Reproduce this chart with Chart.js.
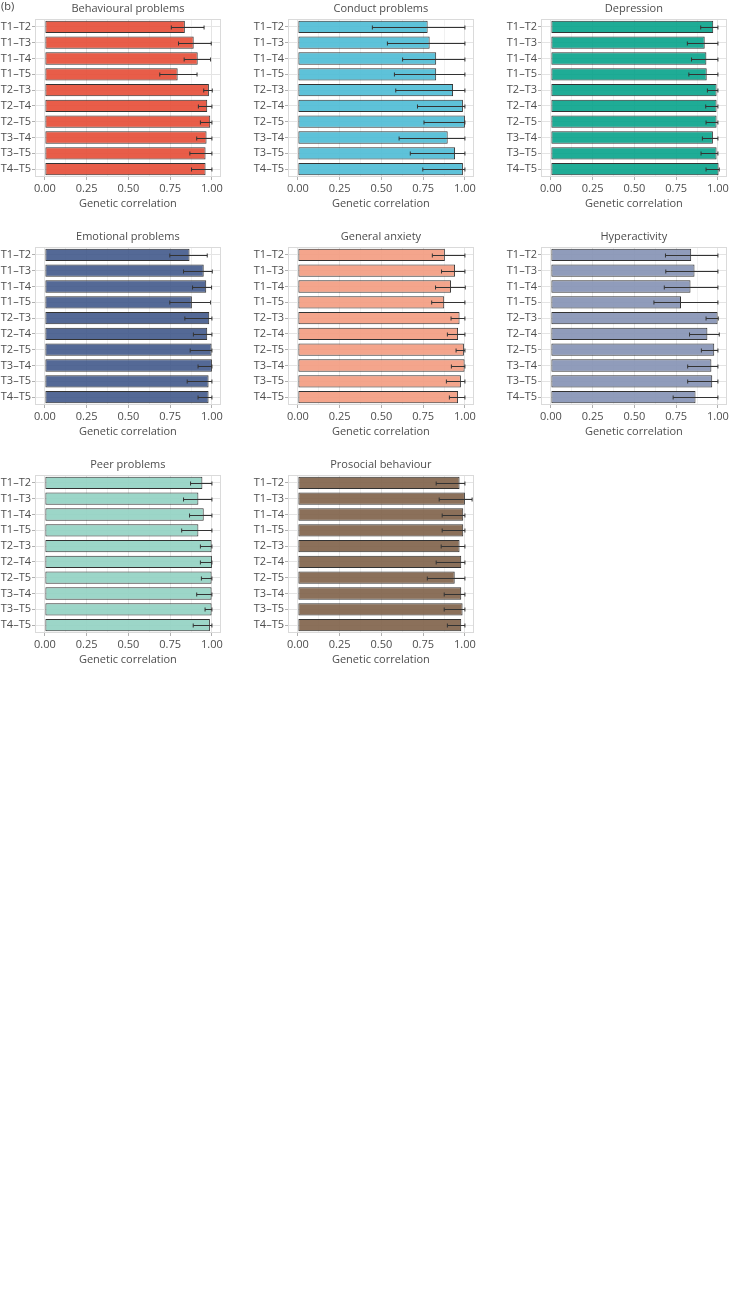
<!DOCTYPE html>
<html lang="en">
<head>
<meta charset="UTF-8">
<title>Genetic correlations between time points</title>
<script src="https://cdn.jsdelivr.net/npm/chart.js"></script>
<style>
  body { margin: 0; background: #fff; font-family: "Open Sans", sans-serif; }
  #page { position: relative; width: 730px; height: 1305px; overflow: hidden; }
  .panel { position: absolute; }
  #tag { position: absolute; left: 1px; top: -2px; font-size: 11px; color: #444; z-index: 2; }
</style>
</head>
<body>
<div id="page">
  <div id="tag">(b)</div>
</div>
<script>
// time-point pairs (y categories) and x tick labels
const pairs = ['T1–T2', 'T1–T3', 'T1–T4', 'T1–T5', 'T2–T3', 'T2–T4', 'T2–T5', 'T3–T4', 'T3–T5', 'T4–T5'];
const xTickValues = [0, 0.25, 0.5, 0.75, 1];

// genetic correlation estimates with lower / upper bounds
const behaviouralR  = [0.838, 0.891, 0.915, 0.795, 0.982, 0.972, 0.990, 0.968, 0.962, 0.962];
const behaviouralLo = [0.757, 0.800, 0.834, 0.688, 0.951, 0.919, 0.931, 0.909, 0.868, 0.878];
const behaviouralHi = [0.953, 0.996, 0.992, 0.911, 1.002, 1.000, 1.000, 1.000, 1.000, 1.000];

const conductR  = [0.777, 0.789, 0.828, 0.828, 0.929, 0.988, 1.000, 0.897, 0.941, 0.988];
const conductLo = [0.446, 0.536, 0.627, 0.578, 0.586, 0.716, 0.755, 0.606, 0.673, 0.748];
const conductHi = [1.000, 1.000, 1.000, 1.000, 1.000, 1.000, 1.000, 1.000, 1.000, 1.000];

const depressionR  = [0.972, 0.921, 0.931, 0.933, 0.992, 0.992, 0.992, 0.970, 0.992, 1.004];
const depressionLo = [0.897, 0.817, 0.842, 0.826, 0.937, 0.927, 0.929, 0.907, 0.899, 0.929];
const depressionHi = [1.000, 1.000, 1.000, 1.000, 1.000, 1.000, 1.000, 1.000, 1.000, 1.008];

const emotionalR  = [0.866, 0.951, 0.966, 0.880, 0.984, 0.972, 0.998, 1.000, 0.980, 0.980];
const emotionalLo = [0.748, 0.830, 0.884, 0.748, 0.838, 0.889, 0.870, 0.917, 0.852, 0.917];
const emotionalHi = [0.972, 1.002, 0.998, 0.992, 1.000, 1.000, 1.000, 1.000, 1.000, 1.000];

const anxietyR  = [0.880, 0.941, 0.917, 0.876, 0.968, 0.959, 0.994, 0.998, 0.976, 0.959];
const anxietyLo = [0.805, 0.860, 0.824, 0.801, 0.917, 0.895, 0.947, 0.919, 0.889, 0.907];
const anxietyHi = [1.000, 1.000, 1.002, 1.000, 1.000, 1.000, 1.000, 1.000, 1.000, 1.000];

const hyperR  = [0.840, 0.860, 0.836, 0.779, 0.998, 0.937, 0.978, 0.961, 0.966, 0.866];
const hyperLo = [0.686, 0.688, 0.679, 0.617, 0.929, 0.830, 0.901, 0.819, 0.819, 0.732];
const hyperHi = [1.000, 1.000, 1.000, 1.000, 1.002, 1.008, 1.000, 1.000, 1.000, 1.000];

const peerR  = [0.943, 0.919, 0.951, 0.919, 0.998, 1.000, 0.998, 0.998, 0.998, 0.988];
const peerLo = [0.872, 0.830, 0.866, 0.819, 0.931, 0.931, 0.937, 0.909, 0.959, 0.888];
const peerHi = [1.000, 1.000, 1.000, 1.000, 1.000, 1.000, 1.000, 1.000, 1.000, 1.000];

const prosocialR  = [0.968, 1.000, 0.990, 0.990, 0.968, 0.978, 0.939, 0.978, 0.986, 0.978];
const prosocialLo = [0.828, 0.846, 0.864, 0.864, 0.858, 0.828, 0.775, 0.876, 0.876, 0.895];
const prosocialHi = [1.000, 1.043, 1.000, 1.000, 1.000, 1.000, 1.000, 1.000, 1.000, 1.000];

const panels = [
  { title: 'Behavioural problems', r: behaviouralR, lo: behaviouralLo, hi: behaviouralHi, color: 'rgba(230,75,53,0.9)' },
  { title: 'Conduct problems', r: conductR, lo: conductLo, hi: conductHi, color: 'rgba(77,187,213,0.9)' },
  { title: 'Depression', r: depressionR, lo: depressionLo, hi: depressionHi, color: 'rgba(0,160,135,0.88)' },
  { title: 'Emotional problems', r: emotionalR, lo: emotionalLo, hi: emotionalHi, color: 'rgba(60,84,136,0.88)' },
  { title: 'General anxiety', r: anxietyR, lo: anxietyLo, hi: anxietyHi, color: 'rgba(243,155,127,0.9)' },
  { title: 'Hyperactivity', r: hyperR, lo: hyperLo, hi: hyperHi, color: 'rgba(132,145,180,0.9)' },
  { title: 'Peer problems', r: peerR, lo: peerLo, hi: peerHi, color: 'rgba(145,209,194,0.9)' },
  { title: 'Prosocial behaviour', r: prosocialR, lo: prosocialLo, hi: prosocialHi, color: 'rgba(126,97,72,0.9)' }
];

const FONT = { family: '"Open Sans", sans-serif', size: 11, weight: 'normal' };
const TEXT = '#4d4d4d';

// whiskers drawn through the chart's own scales
const errorBars = {
  id: 'errorBars',
  afterDatasetsDraw(chart, args, opts) {
    const { ctx, scales: { x, y } } = chart;
    ctx.save();
    ctx.strokeStyle = '#333';
    ctx.lineWidth = 1;
    opts.lo.forEach((lo, i) => {
      const yy = Math.round(y.getPixelForValue(i)) + 0.5;
      const x1 = x.getPixelForValue(lo);
      const x2 = x.getPixelForValue(opts.hi[i]);
      ctx.beginPath();
      ctx.moveTo(x1, yy); ctx.lineTo(x2, yy);
      ctx.moveTo(x1, yy - 2); ctx.lineTo(x1, yy + 2);
      ctx.moveTo(x2, yy - 2); ctx.lineTo(x2, yy + 2);
      ctx.stroke();
    });
    ctx.restore();
  }
};

// light frame round the panel
const frame = {
  id: 'frame',
  afterDraw(chart) {
    const { ctx, chartArea: a } = chart;
    ctx.save();
    ctx.strokeStyle = '#dadada';
    ctx.lineWidth = 1;
    ctx.strokeRect(Math.round(a.left) + 0.5, Math.round(a.top) + 0.5,
      Math.round(a.right - a.left) - 1, Math.round(a.bottom - a.top) - 1);
    ctx.restore();
  }
};

const xTicksAll = [];
xTickValues.forEach((v, i) => {
  xTicksAll.push(v);
  if (i < xTickValues.length - 1) xTicksAll.push((v + xTickValues[i + 1]) / 2);
});
const isMajor = v => xTickValues.some(t => Math.abs(t - v) < 1e-9);

const page = document.getElementById('page');
const colLeft = [0, 253, 506];
const rowTop = [0, 228, 456];

panels.forEach((p, k) => {
  const canvas = document.createElement('canvas');
  canvas.className = 'panel';
  canvas.width = 225;
  canvas.height = 215;
  canvas.style.left = colLeft[k % 3] + 'px';
  canvas.style.top = rowTop[Math.floor(k / 3)] + 'px';
  canvas.style.width = '225px';
  canvas.style.height = '215px';
  page.appendChild(canvas);

  new Chart(canvas, {
    type: 'bar',
    data: {
      labels: pairs,
      datasets: [{
        data: p.r,
        backgroundColor: p.color,
        borderColor: '#333',
        borderWidth: 1,
        borderSkipped: false,
        barPercentage: 0.78,
        categoryPercentage: 1
      }]
    },
    plugins: [errorBars, frame],
    options: {
      indexAxis: 'y',
      responsive: false,
      animation: false,
      devicePixelRatio: 1,
      layout: { padding: { left: 0, right: 2, top: 0, bottom: 0 }, autoPadding: false },
      plugins: {
        legend: { display: false },
        tooltip: { enabled: false },
        title: {
          display: true, fullSize: false, text: p.title, font: FONT, color: TEXT,
          padding: { top: 2, bottom: 3.8 }
        },
        errorBars: { lo: p.lo, hi: p.hi }
      },
      scales: {
        x: {
          type: 'linear',
          min: -0.059,
          max: 1.053,
          afterBuildTicks: axis => { axis.ticks = xTicksAll.map(v => ({ value: v })); },
          afterFit: axis => { axis.height = 38; },
          border: { display: false },
          grid: {
            color: c => isMajor(c.tick.value) ? '#e4e4e4' : '#f1f1f1',
            tickColor: c => isMajor(c.tick.value) ? '#b0b0b0' : 'rgba(0,0,0,0)',
            tickLength: 3
          },
          ticks: {
            autoSkip: false, maxRotation: 0, padding: 2,
            font: FONT, color: TEXT,
            callback: v => isMajor(v) ? v.toFixed(2) : ''
          },
          title: { display: true, text: 'Genetic correlation', font: FONT, color: TEXT, padding: { top: 2, bottom: 5 } }
        },
        y: {
          type: 'category',
          afterFit: axis => { axis.width = 35; },
          border: { display: false },
          grid: { color: '#e4e4e4', offset: false, tickColor: '#b0b0b0', tickLength: 3 },
          ticks: { padding: 1, font: FONT, color: TEXT, autoSkip: false }
        }
      }
    }
  });
});
</script>
</body>
</html>
